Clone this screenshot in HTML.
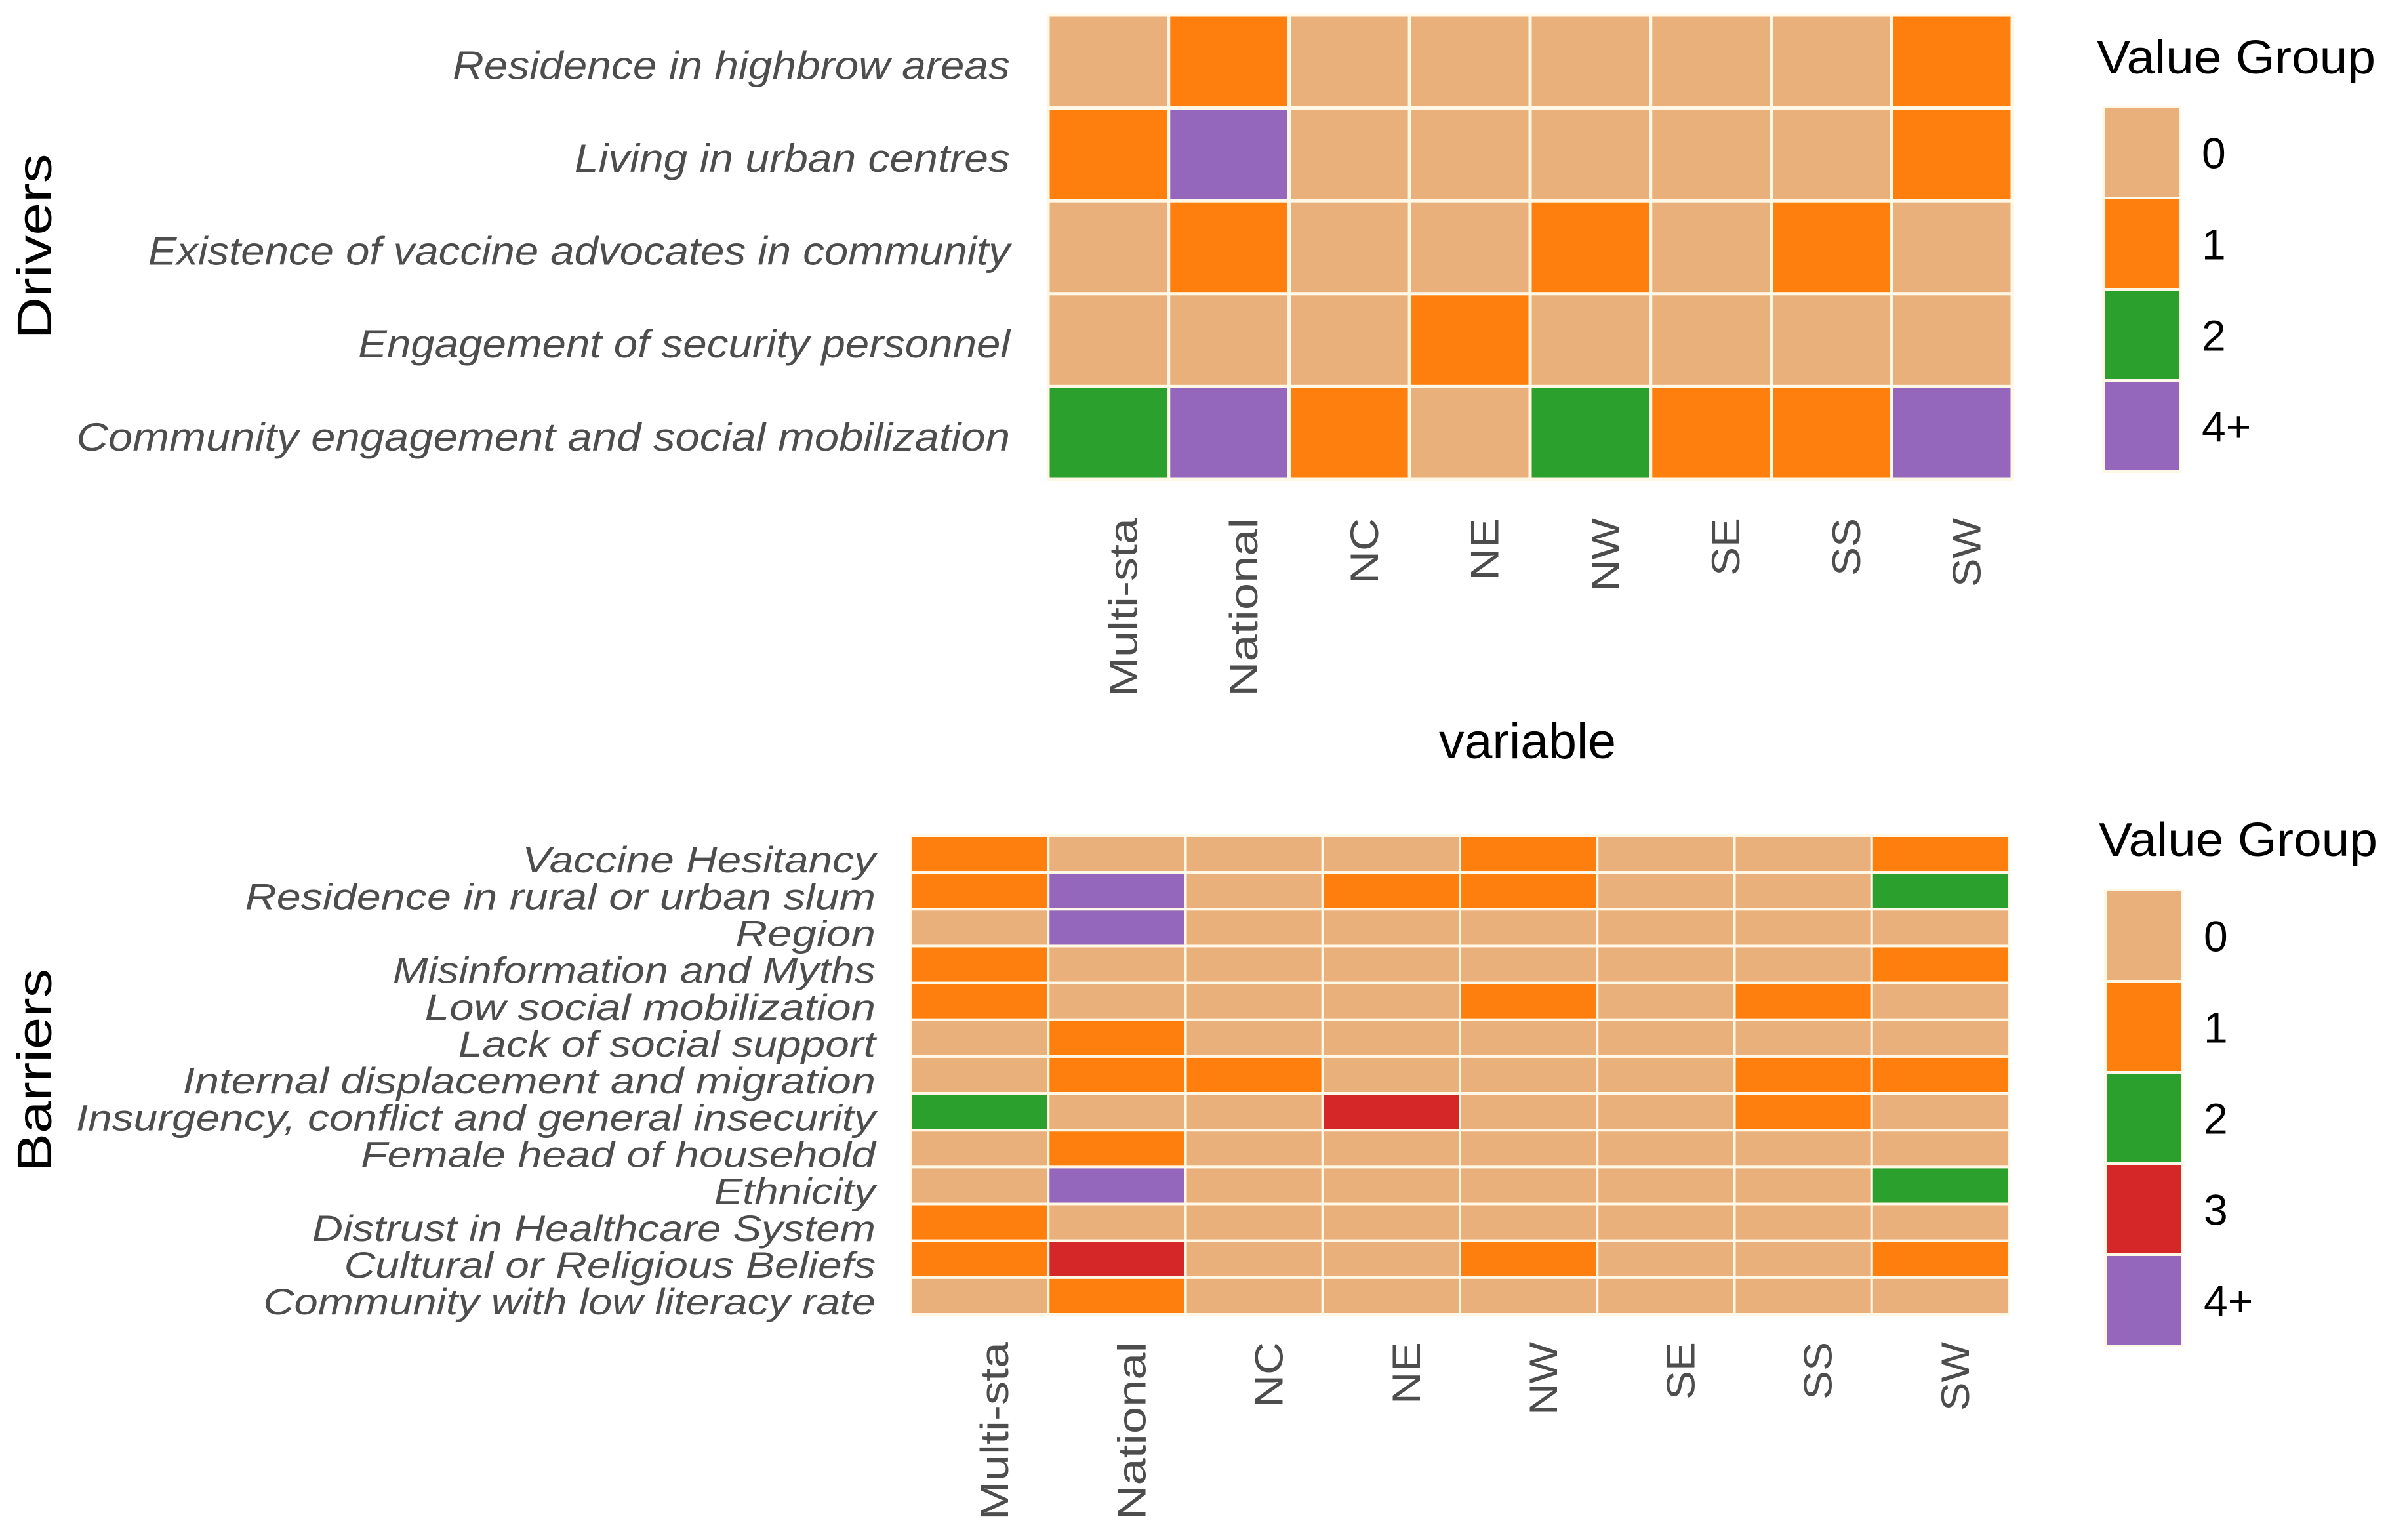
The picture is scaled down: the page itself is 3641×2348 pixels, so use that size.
<!DOCTYPE html>
<html><head><meta charset="utf-8"><style>html,body{margin:0;padding:0;background:#fff}svg{display:block}</style></head>
<body>
<svg id="chart" xmlns="http://www.w3.org/2000/svg" width="3641" height="2348" viewBox="0 0 3641 2348" font-family="Liberation Sans, Arial, sans-serif">
<rect x="0" y="0" width="3641" height="2348" fill="#fff"/>
<g id="top"></g>
<g id="bot"></g>
<text x="2329" y="1156" font-size="76" text-anchor="middle" fill="#000" textLength="270" lengthAdjust="spacingAndGlyphs">variable</text>
<text transform="translate(78,376) rotate(-90)" font-size="74" text-anchor="middle" fill="#000" textLength="283" lengthAdjust="spacingAndGlyphs">Drivers</text>
<text transform="translate(78,1632) rotate(-90)" font-size="74" text-anchor="middle" fill="#000" textLength="310" lengthAdjust="spacingAndGlyphs">Barriers</text>
</svg>
<script>
const categories = ["Multi-sta","National","NC","NE","NW","SE","SS","SW"];
const driverLabels = ["Residence in highbrow areas","Living in urban centres","Existence of vaccine advocates in community","Engagement of security personnel","Community engagement and social mobilization"];
const driverValues = [
 [0,1,0,0,0,0,0,1],
 [1,4,0,0,0,0,0,1],
 [0,1,0,0,1,0,1,0],
 [0,0,0,1,0,0,0,0],
 [2,4,1,0,2,1,1,4]];
const barrierLabels = ["Vaccine Hesitancy","Residence in rural or urban slum","Region","Misinformation and Myths","Low social mobilization","Lack of social support","Internal displacement and migration","Insurgency, conflict and general insecurity","Female head of household","Ethnicity","Distrust in Healthcare System","Cultural or Religious Beliefs","Community with low literacy rate"];
const barrierValues = [
 [1,0,0,0,1,0,0,1],
 [1,4,0,1,1,0,0,2],
 [0,4,0,0,0,0,0,0],
 [1,0,0,0,0,0,0,1],
 [1,0,0,0,1,0,1,0],
 [0,1,0,0,0,0,0,0],
 [0,1,1,0,0,0,1,1],
 [2,0,0,3,0,0,1,0],
 [0,1,0,0,0,0,0,0],
 [0,4,0,0,0,0,0,2],
 [1,0,0,0,0,0,0,0],
 [1,3,0,0,1,0,0,1],
 [0,1,0,0,0,0,0,0]];
const driverLegend = ["0","1","2","4+"];
const barrierLegend = ["0","1","2","3","4+"];
const colorOf = {"0":"#E9B07C","1":"#FF7F0E","2":"#2CA02C","3":"#D62728","4":"#9467BD","4+":"#9467BD"};
const tickLens = [272,272,100,95,112,88,88,105];
const NS="http://www.w3.org/2000/svg";
function mk(tag,attrs,parent){const e=document.createElementNS(NS,tag);for(const k in attrs)e.setAttribute(k,attrs[k]);parent.appendChild(e);return e;}
function panel(g,labels,values,legend,o){
  const nr=labels.length,nc=categories.length;
  const cw=(o.x1-o.x0)/nc,rh=(o.y1-o.y0)/nr;
  const xs=i=>o.x0+i*cw, ys=j=>o.y0+j*rh;
  for(let j=0;j<nr;j++){
    for(let i=0;i<nc;i++){
      const r=mk('rect',{x:xs(i),y:ys(j),width:cw,height:rh,fill:colorOf[String(values[j][i])],stroke:"#fff8e6","stroke-width":o.sw},g);
      
      
    }
    const t=mk('text',{x:o.lx,y:ys(j)+rh/2+o.lfs*0.36+o.ldy,"font-size":o.lfs,"font-style":"italic","text-anchor":"end",fill:"#4d4d4d"},g);
    t.textContent=labels[j];
    if(o.lw[j]){t.setAttribute('textLength',o.lw[j]);t.setAttribute('lengthAdjust','spacingAndGlyphs');}
    
    
  }
  for(let i=0;i<nc;i++){
    const cx=xs(i)+cw/2+o.xfs*0.36+o.xdx;
    const t=mk('text',{transform:`translate(${cx},${o.xly}) rotate(-90)`,"font-size":o.xfs,"text-anchor":"end",fill:"#4d4d4d",textLength:tickLens[i],lengthAdjust:"spacingAndGlyphs"},g);
    t.textContent=categories[i];
    
    
  }
  const tt=mk('text',{x:o.gx-10,y:o.ty,"font-size":72,fill:"#000",textLength:425,lengthAdjust:"spacingAndGlyphs"},g);
  tt.textContent="Value Group";
  
  
  const kh=139;
  legend.forEach((lab,k)=>{
    const r=mk('rect',{x:o.gx,y:o.gy+k*kh,width:117,height:kh,fill:colorOf[lab],stroke:"#fff8e6","stroke-width":4},g);
    
    
    const t=mk('text',{x:o.gx+150,y:o.gy+k*kh+kh/2+24,"font-size":66,fill:"#000"},g);
    t.textContent=lab;
    
    
  });
}
const S=2.322;
panel(document.getElementById('top'),driverLabels,driverValues,driverLegend,{
  x0:1598,x1:3068,y0:23,y1:731,sw:5,lx:1540,lfs:60,ldy:5,
  lw:[(663-297)*S,(663-377)*S,(663-97)*S,(663-235)*S,(663-50)*S],
  xfs:60,xdx:22,xly:790,gx:3207,gy:163,ty:112});
panel(document.getElementById('bot'),barrierLabels,barrierValues,barrierLegend,{
  x0:1389,x1:3063,y0:1274,y1:2004,sw:4,lx:1335,lfs:56,ldy:8,
  lw:[343,161,483,258,279,301,120,50,237,469,205,226,173].map(v=>(575-v)*S),
  xfs:60,xdx:22,xly:2046,gx:3210,gy:1357,ty:1305});
</script>
</body></html>
